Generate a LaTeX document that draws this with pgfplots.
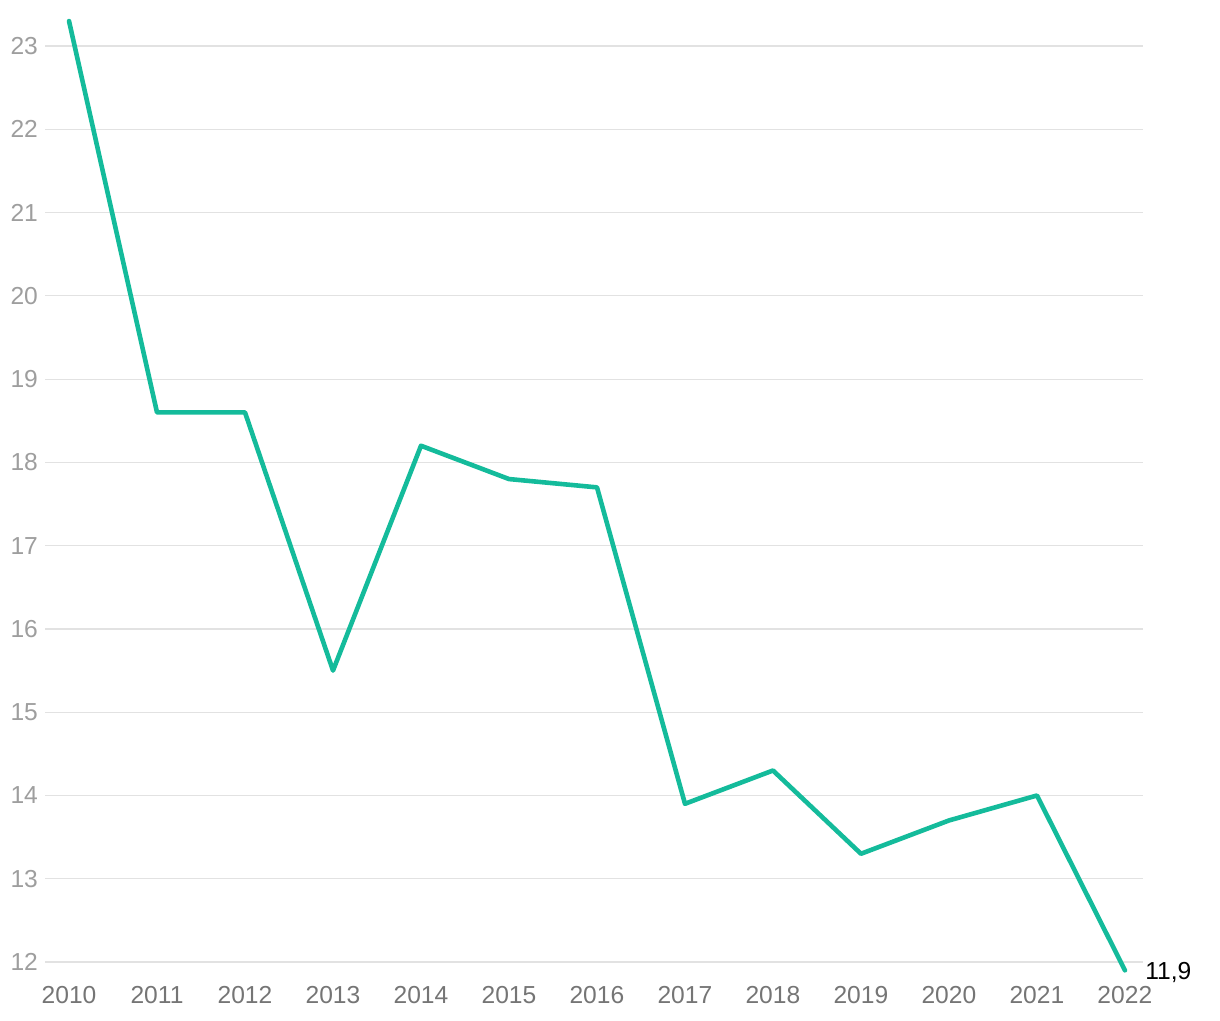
\documentclass[border=0pt]{standalone}
\usepackage{pgfplots}
\pgfplotsset{compat=1.18}
\usepackage{fontspec}
\setmainfont{Liberation Sans}
\definecolor{linec}{HTML}{14BB9B}
\definecolor{gridc}{HTML}{E2E2E2}
\definecolor{ytc}{HTML}{9E9E9E}
\definecolor{xtc}{HTML}{757575}
\begin{document}
\begin{tikzpicture}
\begin{axis}[
  scale only axis,
  width=549pt, height=478.8pt,
  xmin=2009.727, xmax=2022.205,
  ymin=11.85, ymax=23.35,
  xtick={2010,...,2022},
  ytick={12,...,23},
  /pgf/number format/assume math mode=true,
  xticklabel style={/pgf/number format/1000 sep={}, color=xtc, font=\fontsize{12.3}{14}\selectfont, yshift=-2.5pt},
  yticklabel style={color=ytc, font=\fontsize{12.3}{14}\selectfont},
  ymajorgrids, grid style={gridc, line width=0.6pt},
  axis line style={draw=none},
  major tick length=0pt,
  clip=false,
]
\addplot[linec, line width=2.3pt, line join=round, line cap=round] coordinates {
(2010,23.3) (2011,18.6) (2012,18.6) (2013,15.5) (2014,18.2) (2015,17.8) (2016,17.7)
(2017,13.9) (2018,14.3) (2019,13.3) (2020,13.7) (2021,14.0) (2022,11.9)};
\node[anchor=west, inner sep=0pt, xshift=10pt, yshift=-1pt, font=\fontsize{12.3}{14}\selectfont] at (axis cs:2022,11.9) {11,9};
\end{axis}
\path ([shift={(-22.5pt,-22.75pt)}]current axis.south west) rectangle ([shift={(38.5pt,8.45pt)}]current axis.north east);
\end{tikzpicture}
\end{document}
